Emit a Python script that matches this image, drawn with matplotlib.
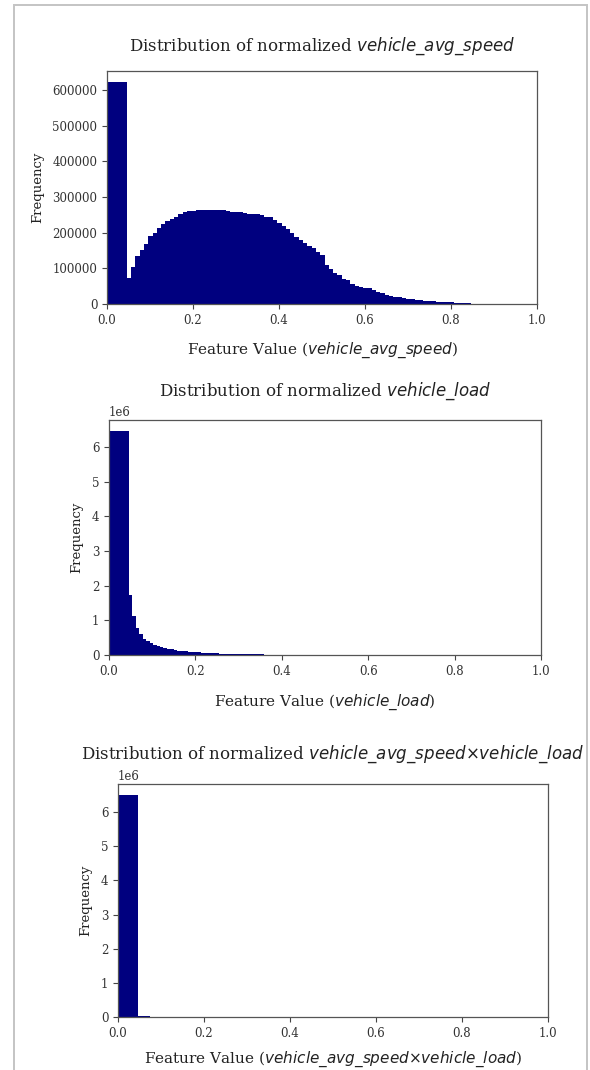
#!/usr/bin/env python3
"""Stacked histograms of the normalised vehicle features."""

import numpy as np
import matplotlib

matplotlib.use("Agg")
import matplotlib.pyplot as plt
from matplotlib.patches import Rectangle

# ---- data ----
speed_edges = [0.0, 0.046] + [round(0.056 + 0.01 * i, 3) for i in range(80)]
speed_counts = [
    622000,
    74000, 104000, 135000, 152000, 168000, 190000, 200000, 212000, 223000, 232000,
    238000, 245000, 252000, 257000, 260000, 262000, 263000, 263000, 263000, 263000,
    263000, 263000, 263000, 262000, 257000, 257000, 257000, 256000, 252000, 252000,
    252000, 250000, 244000, 244000, 236000, 227000, 218000, 211000, 200000, 188000,
    180000, 172000, 163000, 156000, 145000, 137000, 110000, 98000, 88000, 80000,
    71000, 68000, 55000, 51000, 47000, 45000, 44000, 40000, 34000, 32000,
    26000, 23000, 21000, 19000, 17000, 15000, 14000, 12000, 10000, 9000,
    9000, 8000, 7000, 6000, 6000, 5000, 4000, 3000, 3000, 2000,
]

load_edges = [0.0, 0.046] + [round(0.054 + 0.008 * i, 3) for i in range(39)]
load_counts = [
    6.46e6,
    1.72e6, 1.13e6, 0.79e6, 0.61e6, 0.47e6, 0.39e6, 0.35e6, 0.30e6, 0.26e6, 0.23e6,
    0.20e6, 0.18e6, 0.16e6, 0.14e6, 0.125e6, 0.115e6, 0.105e6, 0.098e6, 0.09e6, 0.085e6,
    0.078e6, 0.072e6, 0.05e6, 0.048e6, 0.046e6, 0.045e6, 0.043e6, 0.042e6, 0.04e6,
    0.039e6, 0.038e6, 0.036e6, 0.035e6, 0.034e6, 0.033e6, 0.032e6, 0.031e6, 0.030e6,
    0.029e6,
]

prod_edges = [0.0, 0.047, 0.074]
prod_counts = [6.50e6, 0.03e6]

features = [r"$vehicle\_avg\_speed$", r"$vehicle\_load$",
            r"$vehicle\_avg\_speed{\times}vehicle\_load$"]

W, H = 590, 1070
# axes boxes in pixels: left, right, top, bottom
boxes = [(107, 537, 71, 304), (109, 541, 420, 655), (118, 548, 784, 1017)]
title_y = [46, 391, 754]
xlabel_y = [350, 702, 1059]

plt.rcParams["font.family"] = "DejaVu Serif"
plt.rcParams["mathtext.fontset"] = "dejavusans"

fig = plt.figure(figsize=(W / 100, H / 100), dpi=100)
fig.patches.append(Rectangle((13.5 / W, -0.1), (587 - 13.5) / W, 1.1 - 5.5 / H,
                             transform=fig.transFigure, fill=False,
                             edgecolor="#c4c4c4", lw=1.4))

data = [(speed_edges, speed_counts), (load_edges, load_counts), (prod_edges, prod_counts)]
for (edges, counts), feat, (l, r, t, b), ty, xy in zip(data, features, boxes, title_y, xlabel_y):
    ax = fig.add_axes([l / W, 1 - b / H, (r - l) / W, (b - t) / H])
    ax.hist(edges[:-1], bins=edges, weights=counts, color="#00007f")
    ax.set_xlim(0, 1)
    for s in ax.spines.values():
        s.set_color("#555555")
        s.set_linewidth(0.9)
    ax.tick_params(labelsize=8.5, colors="#444444", labelcolor="#333333",
                   length=3.5, width=0.8, pad=3.5)
    ax.yaxis.get_offset_text().set_fontsize(8.5)
    ax.yaxis.get_offset_text().set_color("#333333")
    ax.set_ylabel("Frequency", fontsize=9.5, color="#222222", labelpad=6)
    cx = (l + r) / 2 / W
    fig.text(cx, 1 - ty / H, "Distribution of normalized " + feat,
             ha="center", va="center", fontsize=12, color="#222222")
    fig.text(cx, 1 - xy / H, "Feature Value (" + feat + ")",
             ha="center", va="center", fontsize=11, color="#222222")

fig.savefig("out.png", dpi=100, facecolor="white")
